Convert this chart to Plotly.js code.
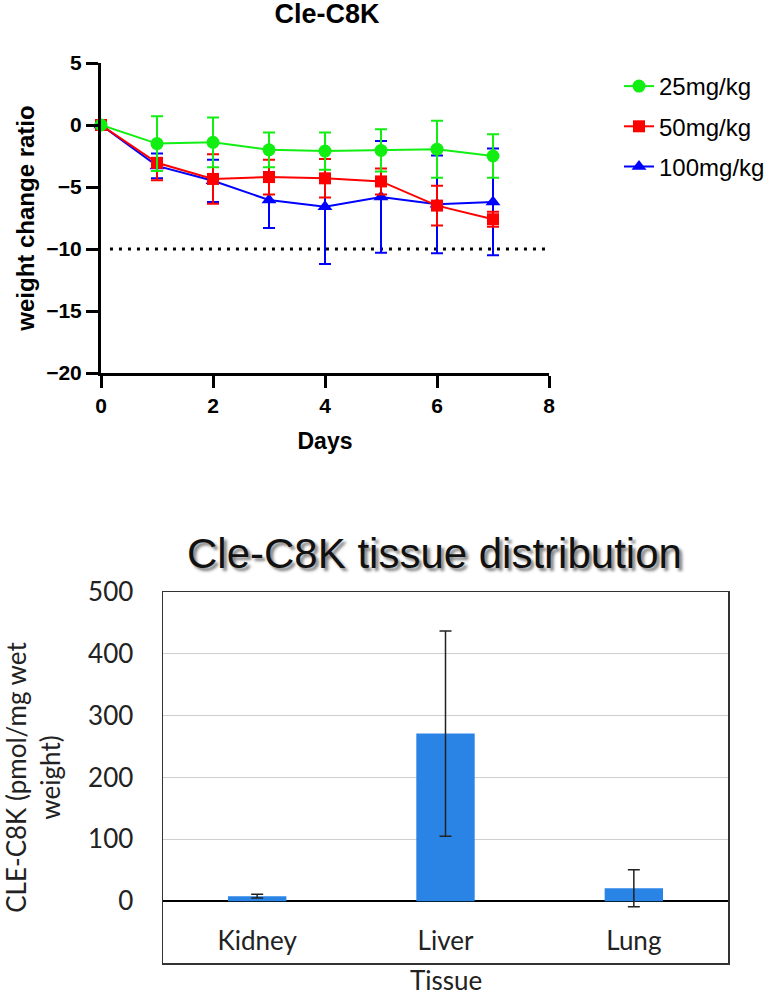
<!DOCTYPE html>
<html>
<head>
<meta charset="utf-8">
<script src="https://cdn.plot.ly/plotly-3.0.1.min.js"></script>
<style>
  html, body { margin: 0; padding: 0; background: #fff; }
  #chart { width: 780px; height: 998px; }
</style>
</head>
<body>
<div id="chart"></div>
<script>
// Body weight change over the dosing period (mean ± SD)
const days = [0, 1, 2, 3, 4, 5, 6, 7];
const dose25 = [0, -1.5, -1.4, -2.0, -2.1, -2.05, -1.95, -2.5];
const dose25Sd = [0, 2.2, 2.0, 1.4, 1.5, 1.7, 2.3, 1.75];
const dose50 = [0, -3.05, -4.35, -4.2, -4.3, -4.55, -6.5, -7.6];
const dose50Sd = [0, 1.4, 2.0, 1.4, 1.55, 1.05, 1.6, 0.6];
const dose100 = [0, -3.3, -4.5, -6.05, -6.6, -5.8, -6.4, -6.2];
const dose100Sd = [0, 1.0, 1.7, 2.25, 4.6, 4.5, 3.95, 4.3];
const seriesNames = ['25mg/kg', '50mg/kg', '100mg/kg'];

// -10 % reference line
const limitX = [0.16, 8];
const limitY = [-10, -10];

// Tissue distribution (mean ± SD)
const tissues = ['Kidney', 'Liver', 'Lung'];
const tissueConc = [8, 271, 21];
const tissueSd = [3, 166, 30];

const W = 780, H = 998;
const px = v => v / W;
const py = v => 1 - v / H;

function doseTrace(x, y, sd, name, rank, color, symbol, size) {
  return {
    type: 'scatter', mode: 'lines+markers', x: x, y: y, name: name,
    xaxis: 'x', yaxis: 'y', legendgroup: name, legendrank: rank, cliponaxis: false,
    line: { color: color, width: 2 },
    marker: { color: color, symbol: symbol, size: size },
    error_y: { type: 'data', array: sd, visible: true, color: color, thickness: 2, width: 6 }
  };
}

// drawn back to front: 100 mg/kg underneath, 25 mg/kg on top
const traces = [
  { type: 'scatter', mode: 'lines', x: limitX, y: limitY, xaxis: 'x', yaxis: 'y',
    showlegend: false, hoverinfo: 'skip',
    line: { color: '#000', width: 3, dash: '3px,6px' } },
  doseTrace(days, dose100, dose100Sd, seriesNames[2], 3, '#0000ff', 'triangle-up', 13),
  doseTrace(days, dose50, dose50Sd, seriesNames[1], 2, '#ff0000', 'square', 12),
  doseTrace(days, dose25, dose25Sd, seriesNames[0], 1, '#11ee11', 'circle', 13),
  { type: 'bar', x: tissues, y: tissueConc, xaxis: 'x2', yaxis: 'y2', showlegend: false,
    width: 0.31, marker: { color: '#2a84e6' },
    error_y: { type: 'data', array: tissueSd, visible: true, color: '#222', thickness: 1.5, width: 6 } }
];

const boldArial = { family: 'Liberation Sans, Arial, sans-serif', color: '#000', weight: 'bold' };
const lato = { family: 'Lato, sans-serif', color: '#222' };

const layout = {
  width: W, height: H,
  margin: { l: 0, r: 0, t: 0, b: 0 },
  paper_bgcolor: '#fff', plot_bgcolor: 'rgba(0,0,0,0)',
  title: {
    text: 'Cle-C8K', x: px(327), y: py(14), xanchor: 'center', yanchor: 'middle',
    font: Object.assign({}, boldArial, { size: 27 })
  },
  showlegend: true,
  legend: {
    x: px(619), y: py(64), xanchor: 'left', yanchor: 'top',
    traceorder: 'grouped', tracegroupgap: 6,
    font: { family: 'Liberation Sans, Arial, sans-serif', size: 24, color: '#000' },
    bgcolor: 'rgba(0,0,0,0)'
  },
  xaxis: {
    domain: [px(101), px(549)], anchor: 'y', range: [0, 8], dtick: 2, tick0: 0,
    showgrid: false, zeroline: false, showline: true, linecolor: '#000', linewidth: 3,
    ticks: 'outside', ticklen: 12, tickwidth: 3, tickcolor: '#000',
    tickfont: Object.assign({}, boldArial, { size: 21 }),
    title: { text: 'Days', font: Object.assign({}, boldArial, { size: 23 }), standoff: 17 },
    automargin: false
  },
  yaxis: {
    domain: [py(373), py(63)], anchor: 'x', range: [-20, 5], dtick: 5, tick0: 0,
    showgrid: false, zeroline: false, showline: true, linecolor: '#000', linewidth: 3,
    ticks: 'outside', ticklen: 12, tickwidth: 3, tickcolor: '#000',
    tickfont: Object.assign({}, boldArial, { size: 21 }),
    title: { text: 'weight change ratio', font: Object.assign({}, boldArial, { size: 24 }), standoff: 5 },
    automargin: false
  },
  xaxis2: {
    domain: [px(163), px(728)], anchor: 'y2',
    showgrid: false, zeroline: false, showline: true, mirror: true,
    linecolor: '#333', linewidth: 1.5, ticks: '',
    ticklabelposition: 'inside', ticklabelstandoff: 10,
    tickfont: Object.assign({}, lato, { size: 26 }),
    automargin: false
  },
  yaxis2: {
    domain: [py(963), py(592)], anchor: 'x2', range: [-100, 500], dtick: 100, tick0: 0,
    showgrid: true, gridcolor: '#cfcfcf', gridwidth: 1,
    zeroline: true, zerolinecolor: '#000', zerolinewidth: 1.5,
    showline: true, mirror: true, linecolor: '#333', linewidth: 1.5,
    ticks: '', ticklabelstandoff: 23,
    tickfont: Object.assign({}, lato, { size: 26 }),
    title: { text: 'CLE-C8K (pmol/mg wet<br>weight)', font: Object.assign({}, lato, { size: 26 }), standoff: 10 },
    automargin: false
  },
  annotations: [
    {
      text: 'Cle-C8K tissue distribution', xref: 'paper', yref: 'paper',
      x: px(434), y: py(553), xanchor: 'center', yanchor: 'middle', showarrow: false,
      font: { family: 'Liberation Sans, Arial, sans-serif', size: 42, color: '#111',
              shadow: '3px 3px 3px rgba(0,0,0,0.5)' }
    },
    {
      // category axis title, set just below the plot frame
      text: 'Tissue', xref: 'x2 domain', yref: 'paper',
      x: 0.5, y: py(980), xanchor: 'center', yanchor: 'middle', showarrow: false,
      font: Object.assign({}, lato, { size: 26 })
    }
  ]
};

Plotly.newPlot('chart', traces, layout, { displayModeBar: false, staticPlot: true });
</script>
</body>
</html>
